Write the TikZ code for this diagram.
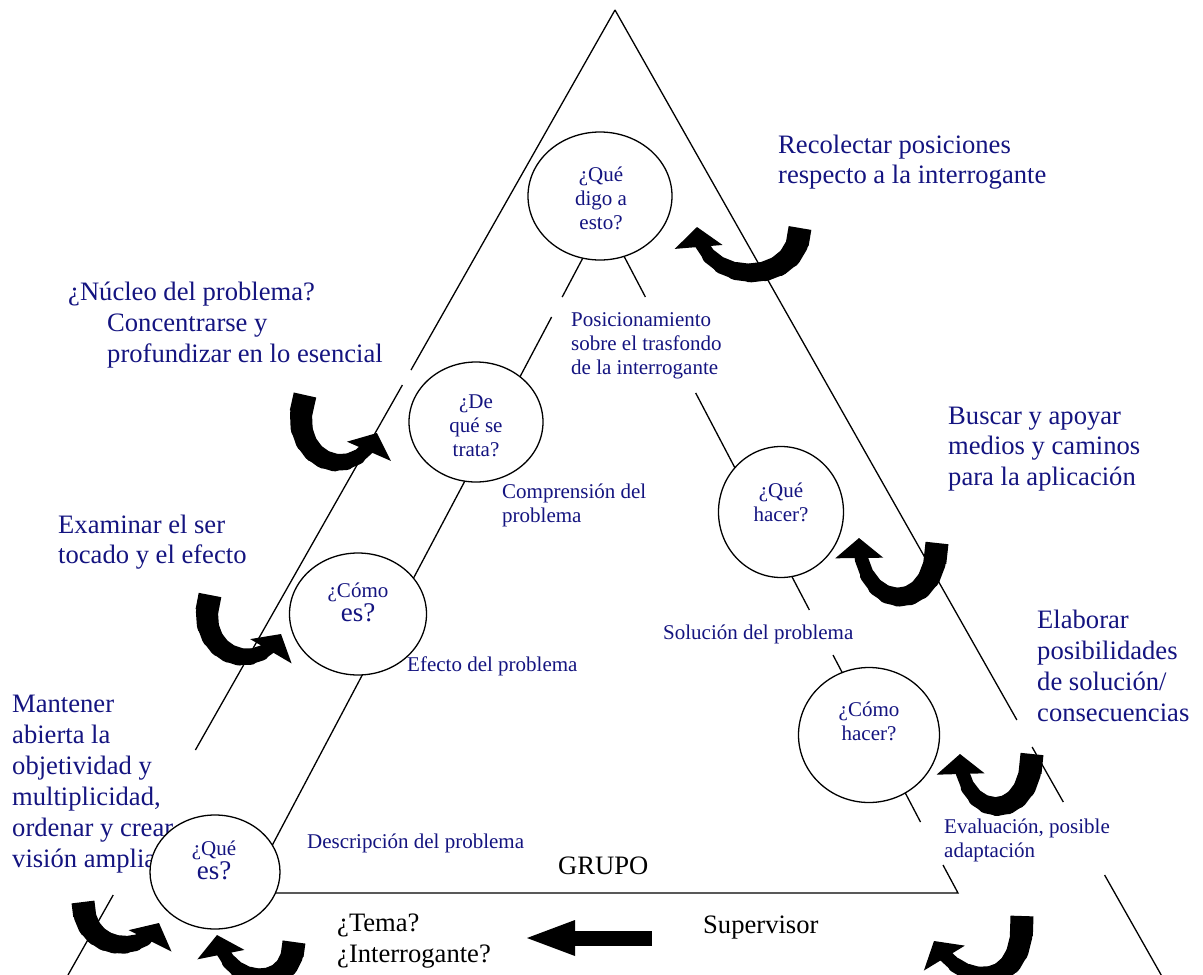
\documentclass[tikz,border=0pt]{standalone}
\usepackage{fontspec}
\setmainfont{Liberation Serif}
\usetikzlibrary{shapes.geometric,arrows.meta,calc}
\definecolor{navyt}{RGB}{20,20,128}
% tapered U-turn block arrow: #1 name, #2 tail, #3 control 1, #4 control 2, #5 tip
\newcommand\uturnarrow[5]{%
  \path (#2) .. controls (#3) and (#4) .. (#5)
    coordinate[pos=0] (#1-0) coordinate[pos=0.1] (#1-1) coordinate[pos=0.2] (#1-2)
    coordinate[pos=0.3] (#1-3) coordinate[pos=0.4] (#1-4) coordinate[pos=0.5] (#1-5)
    coordinate[pos=0.6] (#1-6) coordinate[pos=0.7] (#1-7) coordinate[pos=0.8] (#1-8)
    coordinate[pos=0.9] (#1-9);
  \draw[band, line width=23pt] (#1-0) -- (#1-1);
  \foreach \i/\j/\w in {1/2/22,2/3/21,3/4/20,4/5/19,5/6/18,6/7/16.5,7/8/15,8/9/13.5}
    {\draw[band, line width=\w pt, line cap=round] (#1-\i) -- (#1-\j);}
  \coordinate (#1-base) at ($(#5)!20pt!(#4)$);
  \fill (#5) -- ($(#1-base)!24pt!90:(#5)$) -- ($(#1-base)!24pt!-90:(#5)$) -- cycle;
}
\begin{document}
\begin{tikzpicture}[x=1pt,y=-1pt,
  edge/.style={line width=1.3pt},
  band/.style={draw=black},
  bubble/.style={ellipse, draw, fill=white, line width=1.3pt, inner sep=0pt},
  bigtxt/.style={text=navyt, font=\fontsize{26.6}{30.6}\selectfont, align=left, inner sep=0pt, anchor=west},
  smalltxt/.style={text=navyt, font=\fontsize{21}{24}\selectfont, align=left, inner sep=0pt, anchor=west},
  bubtxt/.style={text=navyt, font=\fontsize{21}{24}\selectfont, align=center, inner sep=0pt},
  blacktxt/.style={text=black, font=\fontsize{26.6}{31}\selectfont, align=left, inner sep=0pt, anchor=west},
  blockarrow/.style={line width=15pt, -{Triangle[length=48pt,width=36pt,line width=0pt]}}
]
\useasboundingbox (0,0) rectangle (1203,975);
\fill[white] (0,0) rectangle (1203,975);

% outer triangle (with gaps left by text boxes)
\draw[edge] (615,10) -- (411,370);
\draw[edge] (402.4,385) -- (195.4,750);
\draw[edge] (113.2,895) -- (68,975);
\draw[edge] (615,10) -- (1016.9,720);
\draw[edge] (1032.1,747) -- (1063.3,802);
\draw[edge] (1104.6,875) -- (1161.2,975);

% inner triangle
\draw[edge] (604,218) -- (562.2,297);
\draw[edge] (551.6,317) -- (247,893) -- (958,893) -- (943,865);
\draw[edge] (604,218) -- (645.4,297);
\draw[edge] (695.7,393) -- (809.4,610);
\draw[edge] (833,655) -- (920.5,822);

% large blue texts
\node[bigtxt] (rec) at (778,162) {Recolectar posiciones\\respecto a la interrogante};
\node[bigtxt] (nuc) at (68,325) {¿Núcleo del problema?\\\hspace*{39pt}Concentrarse y\\\hspace*{39pt}profundizar en lo esencial};
\node[bigtxt] (exa) at (58,542) {Examinar el ser\\tocado y el efecto};
\node[bigtxt, font=\fontsize{26.6}{31}\selectfont] (man) at (12,784) {Mantener\\abierta la\\objetividad y\\multiplicidad,\\ordenar y crear\\visión amplia};
\node[bigtxt] (bus) at (948,449) {Buscar y apoyar\\medios y caminos\\para la aplicación};
\node[bigtxt, font=\fontsize{26.6}{31}\selectfont] (ela) at (1037,666) {Elaborar\\posibilidades\\de solución/\\consecuencias};

% small blue labels
\node[smalltxt] (pos) at (571,346) {Posicionamiento\\sobre el trasfondo\\de la interrogante};
\node[smalltxt] (comp) at (502,505) {Comprensión del\\problema};
\node[smalltxt] (efe) at (407,666) {Efecto del problema};
\node[smalltxt] (des) at (307,843) {Descripción del problema};
\node[smalltxt] (sol) at (663,634) {Solución del problema};
\node[smalltxt] (eva) at (944,840) {Evaluación, posible\\adaptación};

% black texts
\node[blacktxt] (grupo) at (558,866) {GRUPO};
\node[blacktxt] (tema) at (337,941) {¿Tema?\\¿Interrogante?};
\node[blacktxt] (sup) at (703,928) {Supervisor};

% bubbles
\node[bubble, minimum width=144pt, minimum height=128pt] (qdigo) at (600,196) {};
\node[bubble, minimum width=134pt, minimum height=120pt] (deque) at (476,422) {};
\node[bubble, minimum width=137pt, minimum height=122pt] (comoes) at (358,614) {};
\node[bubble, minimum width=130pt, minimum height=114pt] (quees) at (215,872) {};
\node[bubble, minimum width=125pt, minimum height=131pt] (quehacer) at (781,512) {};
\node[bubble, minimum width=141pt, minimum height=135pt] (comohacer) at (869,735) {};

% bubble texts
\node[bubtxt] (tqdigo) at (601,198) {¿Qué\\digo a\\esto?};
\node[bubtxt] (tdeque) at (476,426) {¿De\\qué se\\trata?};
\node[bubtxt] (tcomoes) at (358,602) {¿Cómo\\{\fontsize{27}{24}\selectfont es?}};
\node[bubtxt] (tquees) at (214,860) {¿Qué\\{\fontsize{27}{24}\selectfont es?}};
\node[bubtxt] (tquehacer) at (781,502) {¿Qué\\hacer?};
\node[bubtxt] (tcomohacer) at (869,721) {¿Cómo\\hacer?};

% curved block arrows
\uturnarrow{ua}{800,228}{800,288}{702,288}{697,227}
\uturnarrow{ub}{305,395}{283,458}{352,490}{377,433}
\uturnarrow{uc}{210,595}{192,652}{254,680}{281,634}
\uturnarrow{ud}{83,902}{83,952}{142,957}{159,923}
\uturnarrow{ue}{294,942}{294,992}{228,990}{217,935}
\uturnarrow{uf}{937,543}{937,616}{860,616}{859,538}
\uturnarrow{ug}{1032,754}{1032,824}{962,824}{960,754}
\uturnarrow{uh}{1022,916}{1026,990}{965,992}{934,941}

% straight block arrow from Supervisor towards the topic
\coordinate (htail) at (652,938);
\coordinate (htip) at (527,938);
\draw[blockarrow] (htail) -- (htip);
\end{tikzpicture}
\end{document}
